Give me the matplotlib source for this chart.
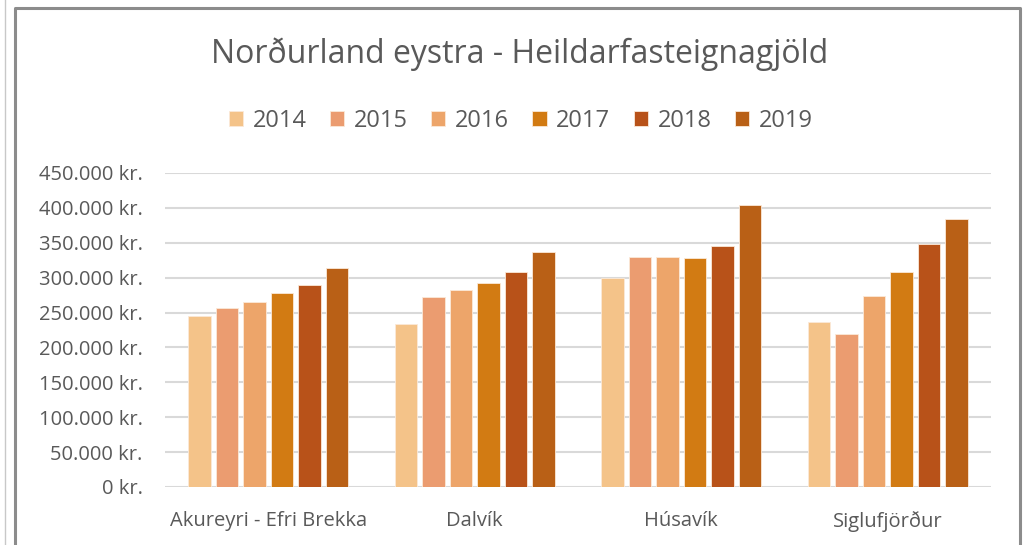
import matplotlib
matplotlib.use('Agg')
import matplotlib.pyplot as plt
import numpy as np
from matplotlib.ticker import FuncFormatter
from matplotlib.lines import Line2D

categories = ['Akureyri - Efri Brekka', 'Dalvík', 'Húsavík', 'Siglufjörður']
years = ['2014', '2015', '2016', '2017', '2018', '2019']
v2014 = [245000, 234000, 300000, 236000]
v2015 = [256000, 272000, 329000, 219000]
v2016 = [265000, 282000, 329000, 274000]
v2017 = [278000, 293000, 328000, 308000]
v2018 = [290000, 308000, 346000, 348000]
v2019 = [314000, 337000, 404000, 384000]
series = [v2014, v2015, v2016, v2017, v2018, v2019]
colors = ['#F4C389', '#EB9C70', '#EDA56A', '#D27B13', '#B85219', '#B96016']

plt.rcParams['font.family'] = ['Open Sans', 'DejaVu Sans']
txt = '#595959'

fig = plt.figure(figsize=(10.25, 5.45), dpi=100)
ax = fig.add_axes([165/1025, 1-487/545, 826/1025, 314/545])

x = np.arange(len(categories))
pitch = 0.133
for i, (vals, c) in enumerate(zip(series, colors)):
    ax.bar(x + (i - 2.5) * pitch, vals, width=0.108, color=c,
           edgecolor='#FBE9D8', linewidth=0.6, label=years[i], zorder=3)

ax.set_xlim(-0.5, 3.5)
ax.set_ylim(0, 450000)
ax.set_yticks(np.arange(0, 450001, 50000))
ax.yaxis.set_major_formatter(FuncFormatter(
    lambda v, p: '{:,.0f} kr.'.format(v).replace(',', '.')))
ax.grid(axis='y', color='#D9D9D9', linewidth=1.5, zorder=0)
for s in ax.spines.values():
    s.set_visible(False)
ax.tick_params(axis='both', length=0, colors=txt, labelsize=14.5)
ax.tick_params(axis='y', pad=16)
ax.tick_params(axis='x', pad=17)
ax.set_xticks(x)
ax.set_xticklabels(categories)

fig.text(0.507, 1-54/545, 'Norðurland eystra - Heildarfasteignagjöld',
         ha='center', va='center', fontsize=23, color=txt)
fig.legend(loc='center', bbox_to_anchor=(0.508, 1-121/545), ncol=6,
           frameon=False, fontsize=17, labelcolor=txt, handlelength=0.6,
           handleheight=0.6, handletextpad=0.4, columnspacing=1.0)

# chart frame
fig.add_artist(Line2D([5/1025, 5/1025], [0, 1], color='#C8C8C8', lw=1))
fig.add_artist(Line2D([15/1025, 15/1025, 1020/1025, 1020/1025],
                      [0, 1-8/545, 1-8/545, 0], color='#8C8C8C', lw=2.2))

fig.savefig('out.png', dpi=100)
